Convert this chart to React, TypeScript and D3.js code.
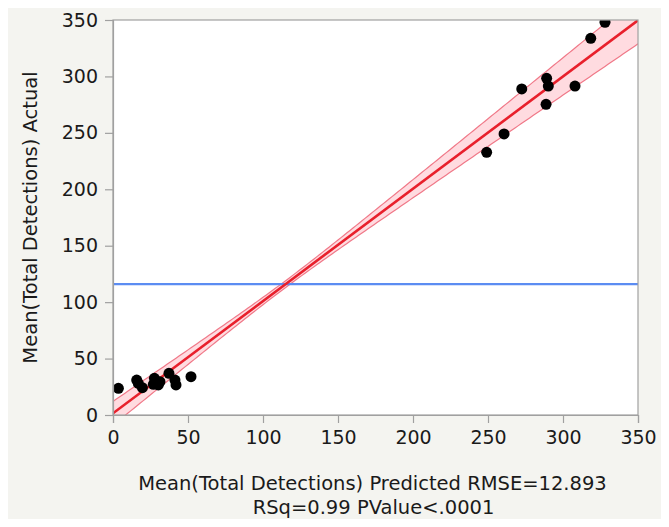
import React, { useEffect, useRef } from 'react'
import * as d3 from 'd3'

// values
const predicted = [3.6, 15.8, 16.9, 19.6, 27.6, 26.9, 30.2, 31.3, 37.3, 41.3, 42, 52,
  249.1, 260.7, 272.5, 289.1, 290.2, 288.7, 308, 318.5, 328]
const actual = [23.6, 31, 28, 24.2, 32.5, 27.2, 26.6, 29.5, 36.9, 31, 26.6, 34,
  232.8, 249, 288.9, 298.3, 291.5, 275.3, 291.5, 333.8, 348]
const ticks = [0, 50, 100, 150, 200, 250, 300, 350]
const meanActual = 116
const fitIntercept = 1.5
const fitSlope = 0.995
// confidence band: half width at the mean and growth away from it
const bandCenter = 115
const bandHalfAtCenter = 3
const bandGrowth = 0.088

const W = 669
const H = 527
const margin = { top: 20, right: 31, bottom: 112, left: 113 }
const font = '"DejaVu Sans", Verdana, sans-serif'

const App = () => {
  const ref = useRef<SVGSVGElement>(null)

  useEffect(() => {
    const svg = d3.select(ref.current)
    svg.selectAll('*').remove()

    const x = d3.scaleLinear().domain([0, 350]).range([margin.left, W - margin.right])
    const y = d3.scaleLinear().domain([0, 350]).range([H - margin.bottom, margin.top])

    svg.append('rect').attr('width', W).attr('height', H).attr('fill', '#f4f4f0')

    svg.append('clipPath').attr('id', 'plot')
      .append('rect')
      .attr('x', x(0)).attr('y', y(350))
      .attr('width', x(350) - x(0)).attr('height', y(0) - y(350))

    svg.append('rect')
      .attr('x', x(0)).attr('y', y(350))
      .attr('width', x(350) - x(0)).attr('height', y(0) - y(350))
      .attr('fill', '#fff')

    const g = svg.append('g').attr('clip-path', 'url(#plot)')

    const xs = d3.range(0, 351, 2)
    const fit = (v: number) => fitIntercept + fitSlope * v
    const half = (v: number) => Math.sqrt(bandHalfAtCenter ** 2 + (bandGrowth * (v - bandCenter)) ** 2)

    g.append('path')
      .datum(xs)
      .attr('fill', '#ff2040')
      .attr('fill-opacity', 0.16)
      .attr('d', d3.area<number>().x(d => x(d)).y0(d => y(fit(d) - half(d))).y1(d => y(fit(d) + half(d))))

    const edge = (s: number) => d3.line<number>().x(d => x(d)).y(d => y(fit(d) + s * half(d)))
    ;[-1, 1].forEach(s => {
      g.append('path').datum(xs)
        .attr('fill', 'none').attr('stroke', '#f07888').attr('stroke-width', 1.2)
        .attr('d', edge(s))
    })

    g.append('line')
      .attr('x1', x(0)).attr('x2', x(350))
      .attr('y1', y(meanActual)).attr('y2', y(meanActual))
      .attr('stroke', '#5b8cf2').attr('stroke-width', 2.2)

    g.append('line')
      .attr('x1', x(0)).attr('x2', x(350))
      .attr('y1', y(fit(0))).attr('y2', y(fit(350)))
      .attr('stroke', '#e8202c').attr('stroke-width', 2.6)

    g.selectAll('circle')
      .data(predicted)
      .join('circle')
      .attr('cx', d => x(d))
      .attr('cy', (d, i) => y(actual[i]))
      .attr('r', 5.5)
      .attr('fill', '#000')

    // frame
    svg.append('rect')
      .attr('x', x(0)).attr('y', y(350))
      .attr('width', x(350) - x(0)).attr('height', y(0) - y(350))
      .attr('fill', 'none').attr('stroke', '#a0a0a0').attr('stroke-width', 1.2)

    const xAxis = svg.append('g')
      .attr('transform', `translate(0,${y(0)})`)
      .call(d3.axisBottom(x).tickValues(ticks).tickSize(8).tickPadding(8))
    const yAxis = svg.append('g')
      .attr('transform', `translate(${x(0)},0)`)
      .call(d3.axisLeft(y).tickValues(ticks).tickSize(8).tickPadding(7))
    ;[xAxis, yAxis].forEach(a => {
      a.select('.domain').attr('stroke', '#a0a0a0').attr('stroke-width', 1.2)
      a.selectAll('.tick line').attr('stroke', '#a0a0a0').attr('stroke-width', 1.2)
      a.selectAll('.tick text').attr('fill', '#1a1a1a').style('font', `19px ${font}`)
    })

    const cx = (x(0) + x(350)) / 2
    svg.append('text')
      .attr('x', cx - 3).attr('y', 490)
      .attr('text-anchor', 'middle').attr('fill', '#1a1a1a')
      .style('font', `19.5px ${font}`)
      .text('Mean(Total Detections) Predicted RMSE=12.893')
    svg.append('text')
      .attr('x', cx - 2).attr('y', 514)
      .attr('text-anchor', 'middle').attr('fill', '#1a1a1a')
      .style('font', `19.5px ${font}`)
      .text('RSq=0.99 PValue<.0001')

    svg.append('text')
      .attr('transform', `translate(37,${(y(0) + y(350)) / 2}) rotate(-90)`)
      .attr('text-anchor', 'middle').attr('fill', '#1a1a1a')
      .style('font', `19.5px ${font}`)
      .text('Mean(Total Detections) Actual')
  }, [])

  return <svg ref={ref} width={W} height={H} style={{ display: 'block', margin: '-8px' }} />
}

export default App
